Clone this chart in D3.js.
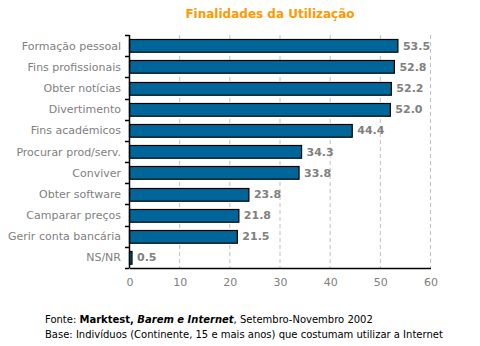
<!DOCTYPE html>
<html><head><meta charset="utf-8">
<script src="https://cdn.jsdelivr.net/npm/d3@7"></script>
<style>body{margin:0;background:#fff}svg{display:block}</style>
</head><body>
<script>
const categories = ["Formação pessoal","Fins profissionais","Obter notícias","Divertimento","Fins académicos","Procurar prod/serv.","Conviver","Obter software","Camparar preços","Gerir conta bancária","NS/NR"];
const values = [53.5,52.8,52.2,52.0,44.4,34.3,33.8,23.8,21.8,21.5,0.5];
const xTicks = [0,10,20,30,40,50,60];
const title = "Finalidades da Utilização";

const W=480,H=346;
const svg=d3.select("body").append("svg").attr("width",W).attr("height",H);
const font="Verdana, 'DejaVu Sans', sans-serif";
const x=d3.scaleLinear().domain([0,60]).range([129.5,430.5]);
const y=d3.scaleBand().domain(categories).range([35,268]).paddingInner(0.4).paddingOuter(0.2);

svg.append("text").attr("x",270).attr("y",18).attr("text-anchor","middle")
  .attr("font-family",font).attr("font-size",12).attr("font-weight","bold").attr("fill","#FF9900").text(title);

// grid
svg.append("g").selectAll("line").data(xTicks.slice(1)).join("line")
  .attr("x1",d=>x(d)).attr("x2",d=>x(d)).attr("y1",35).attr("y2",268)
  .attr("stroke","#c0c0c0").attr("stroke-dasharray","4,3");

// bars
svg.append("g").selectAll("rect").data(values).join("rect")
  .attr("x",x(0)).attr("y",(d,i)=>Math.round(y(categories[i]))+0.5)
  .attr("width",d=>x(d)-x(0)).attr("height",y.bandwidth())
  .attr("fill","#006699").attr("stroke","#000").attr("stroke-width",1.2);

// value labels
svg.append("g").selectAll("text").data(values).join("text")
  .attr("x",d=>x(d)+5).attr("y",(d,i)=>y(categories[i])+y.bandwidth()/2+4)
  .attr("font-family",font).attr("font-size",11).attr("font-weight","bold").attr("fill","#808080")
  .text(d=>d.toFixed(1));

// y axis
const yb=d3.scaleLinear().domain([0,categories.length]).range([35,268]);
const gy=svg.append("g");
gy.append("line").attr("x1",129.5).attr("x2",129.5).attr("y1",35).attr("y2",268).attr("stroke","#000").attr("stroke-width",1.5);
gy.selectAll("line.t").data(d3.range(categories.length+1)).join("line").attr("class","t")
  .attr("x1",125).attr("x2",129.5).attr("y1",d=>Math.round(yb(d))+0.5).attr("y2",d=>Math.round(yb(d))+0.5).attr("stroke","#000").attr("stroke-width",1.5);
gy.selectAll("text").data(categories).join("text")
  .attr("x",121).attr("y",d=>y(d)+y.bandwidth()/2+4).attr("text-anchor","end")
  .attr("font-family",font).attr("font-size",11).attr("fill","#808080").text(d=>d);

// x axis
const gx=svg.append("g").attr("transform","translate(0,268)")
  .call(d3.axisBottom(x).tickValues(xTicks).tickSize(0).tickPadding(10));
gx.select(".domain").attr("stroke","#000").attr("stroke-width",1.5);
gx.selectAll("text").attr("font-family",font).attr("font-size",11).attr("fill","#808080");

// footer
const f=svg.append("text").attr("x",45).attr("y",323).attr("font-family",font).attr("font-size",10).attr("fill","#000");
f.append("tspan").text("Fonte: ");
f.append("tspan").attr("font-weight","bold").text("Marktest, ");
f.append("tspan").attr("font-weight","bold").attr("font-style","italic").text("Barem e Internet");
f.append("tspan").text(", Setembro-Novembro 2002");
svg.append("text").attr("x",45).attr("y",338).attr("font-family",font).attr("font-size",10).attr("fill","#000")
  .text("Base: Indivíduos (Continente, 15 e mais anos) que costumam utilizar a Internet");
</script>
</body></html>
